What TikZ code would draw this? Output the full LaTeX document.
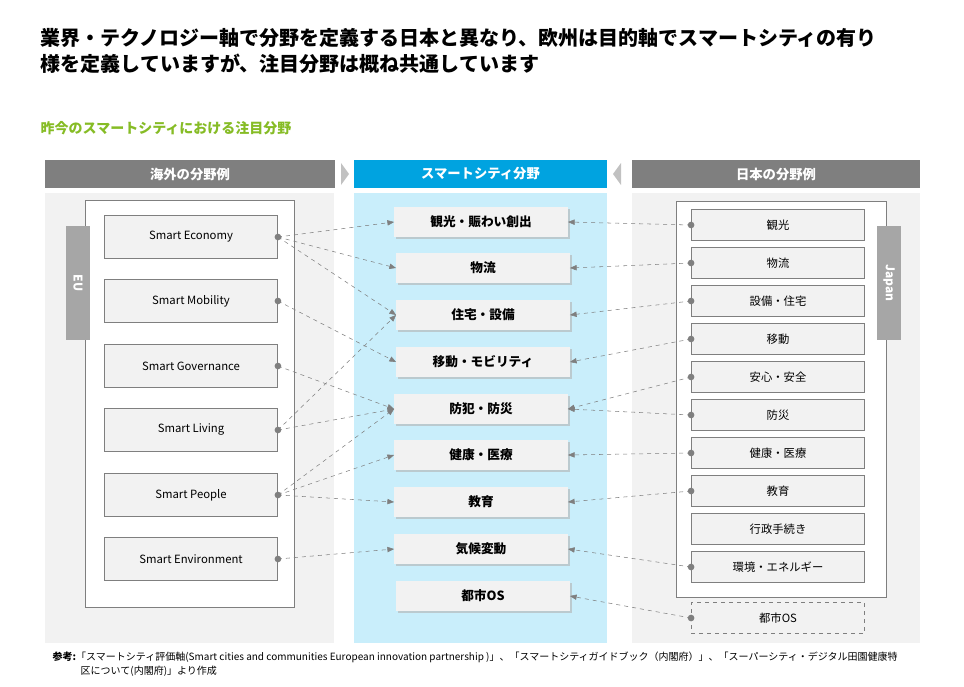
\documentclass[tikz,border=0pt]{standalone}
\usepackage{fontspec}
\setmainfont{Noto Sans CJK JP}
\usetikzlibrary{arrows.meta, positioning, shadows}
\definecolor{hdgray}{HTML}{7F7F7F}
\definecolor{tabgray}{HTML}{A6A6A6}
\definecolor{panel}{HTML}{F2F2F2}
\definecolor{skyblue}{HTML}{00A3E0}
\definecolor{lightsky}{HTML}{C9EEFB}
\definecolor{dgreen}{HTML}{86BC25}
\tikzset{
  header/.style={fill=#1, text=white, font=\bfseries\fontsize{10}{12}\selectfont, minimum width=217.5pt, minimum height=21pt, inner sep=0pt},
  eubox/.style={draw=hdgray, fill=panel, minimum width=130pt, minimum height=32pt, font=\fontsize{8.5}{10}\selectfont, inner sep=0pt},
  jpbox/.style={draw=hdgray, fill=panel, minimum width=130pt, minimum height=23pt, font=\fontsize{8.5}{10}\selectfont, inner sep=0pt},
  catbox/.style={fill=panel, minimum width=130pt, minimum height=23pt, font=\bfseries\fontsize{9.5}{11}\selectfont, inner sep=0pt, drop shadow={shadow xshift=1.5pt, shadow yshift=-1.5pt, fill=gray!60, opacity=.6}},
  tab/.style={fill=tabgray, minimum width=85pt, minimum height=18pt, inner sep=0pt, text=white, font=\bfseries\fontsize{9}{10}\selectfont, rotate=-90},
  link/.style={draw=hdgray, dashed, thin, -{Triangle[length=5pt,width=4pt]}},
  dot/.style={circle, fill=hdgray, inner sep=0pt, minimum size=5pt},
}
\begin{document}
\begin{tikzpicture}[x=0.75pt, y=-0.75pt]
  \useasboundingbox (0,0) rectangle (964,686);
  \fill[white] (0,0) rectangle (964,686);

  % Title
  \node[anchor=west, font=\bfseries\fontsize{15}{18}\selectfont] at (36,38) {業界・テクノロジー軸で分野を定義する日本と異なり、欧州は目的軸でスマートシティの有り};
  \node[anchor=west, font=\bfseries\fontsize{15}{18}\selectfont] at (36,64) {様を定義していますが、注目分野は概ね共通しています};
  \node[anchor=west, text=dgreen, font=\bfseries\fontsize{10.5}{12}\selectfont] at (36,128) {昨今のスマートシティにおける注目分野};

  % Headers
  \node[header=hdgray, minimum width=217.5pt] (hl) at (190,174) {海外の分野例};
  \node[header=skyblue, minimum width=190pt] (hc) at (480.5,174) {スマートシティ分野};
  \node[header=hdgray, minimum width=216pt] (hr) at (776,174) {日本の分野例};
  \fill[tabgray!70] (341,163) -- (349,174) -- (341,185) -- cycle;
  \fill[tabgray!70] (621,163) -- (613,174) -- (621,185) -- cycle;

  % Panels
  \fill[panel] (45,193) rectangle (334,643);
  \fill[lightsky] (354,193) rectangle (607,643);
  \fill[panel] (632,193) rectangle (920,643);
  \draw[hdgray, fill=white] (85,200) rectangle (294,607);
  \draw[hdgray, fill=white] (676,201) rectangle (886,597);
  \node[tab] (eu) at (78,283) {EU};
  \node[tab] (jp) at (889,283) {Japan};

  % Left boxes
  \node[eubox] (economy) at (191,237) {Smart Economy};
  \node[eubox] (mobility) at (191,301) {Smart Mobility};
  \node[eubox] (governance) at (191,366) {Smart Governance};
  \node[eubox] (living) at (191,430) {Smart Living};
  \node[eubox] (people) at (191,495) {Smart People};
  \node[eubox] (environment) at (191,559) {Smart Environment};

  % Center boxes
  \node[catbox] (kanko) at (481,222) {観光・賑わい創出};
  \node[catbox] (butsuryu) at (483,268) {物流};
  \node[catbox] (jutaku) at (483,315) {住宅・設備};
  \node[catbox] (ido) at (483,362) {移動・モビリティ};
  \node[catbox] (bosai) at (481,409) {防犯・防災};
  \node[catbox] (kenko) at (481,455) {健康・医療};
  \node[catbox] (kyoiku) at (481,502) {教育};
  \node[catbox] (kiko) at (481,549) {気候変動};
  \node[catbox] (os) at (483,596) {都市OS};

  % Right boxes
  \node[jpbox] (j1) at (778,225) {観光};
  \node[jpbox] (j2) at (778,263) {物流};
  \node[jpbox] (j3) at (778,301) {設備・住宅};
  \node[jpbox] (j4) at (778,339) {移動};
  \node[jpbox] (j5) at (778,377) {安心・安全};
  \node[jpbox] (j6) at (778,415) {防災};
  \node[jpbox] (j7) at (778,453) {健康・医療};
  \node[jpbox] (j8) at (778,491) {教育};
  \node[jpbox] (j9) at (778,529) {行政手続き};
  \node[jpbox] (j10) at (778,567) {環境・エネルギー};
  \node[jpbox, dashed] (j11) at (778,618) {都市OS};

  % Dots
  \foreach \n in {economy, mobility, governance, living, people, environment}
    \node[dot] (\n-d) at (\n.east) {};
  \foreach \n in {j1, j2, j3, j4, j5, j6, j7, j8, j10, j11}
    \node[dot] (\n-d) at (\n.west) {};

  % Links from EU
  \draw[link] (economy-d.center) -- (kanko.west);
  \draw[link] (economy-d.center) -- (butsuryu.west);
  \draw[link] (economy-d.center) -- (jutaku.west);
  \draw[link] (mobility-d.center) -- (ido.west);
  \draw[link] (governance-d.center) -- (bosai.west);
  \draw[link] (living-d.center) -- (jutaku.west);
  \draw[link] (living-d.center) -- (bosai.west);
  \draw[link] (people-d.center) -- (bosai.west);
  \draw[link] (people-d.center) -- (kenko.west);
  \draw[link] (people-d.center) -- (kyoiku.west);
  \draw[link] (environment-d.center) -- (kiko.west);

  % Links from Japan
  \draw[link] (j1-d.center) -- (kanko.east);
  \draw[link] (j2-d.center) -- (butsuryu.east);
  \draw[link] (j3-d.center) -- (jutaku.east);
  \draw[link] (j4-d.center) -- (ido.east);
  \draw[link] (j5-d.center) -- (bosai.east);
  \draw[link] (j6-d.center) -- (bosai.east);
  \draw[link] (j7-d.center) -- (kenko.east);
  \draw[link] (j8-d.center) -- (kyoiku.east);
  \draw[link] (j10-d.center) -- (kiko.east);
  \draw[link] (j11-d.center) -- (os.east);

  % Footer
  \node[anchor=west, font=\fontsize{7.5}{9}\selectfont] at (48,657) {\textbf{参考:}「スマートシティ評価軸(Smart cities and communities European innovation partnership )」、「スマートシティガイドブック（内閣府）」、「スーパーシティ・デジタル田園健康特};
  \node[anchor=west, font=\fontsize{7.5}{9}\selectfont] at (76,671) {区について(内閣府)」より作成};
\end{tikzpicture}
\end{document}
